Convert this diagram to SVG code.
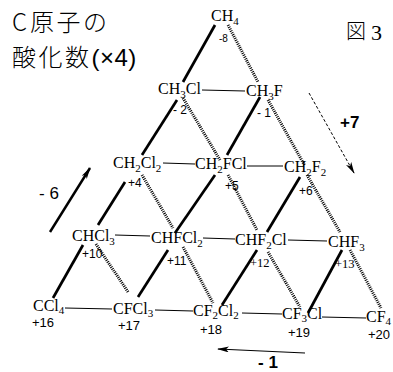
<svg xmlns="http://www.w3.org/2000/svg" width="393" height="372" viewBox="0 0 393 372">
<style>
.f{font-family:"Liberation Serif","Times New Roman",serif;font-size:16px;fill:#000}
.s{font-size:11px}
.n{font-family:"Liberation Sans",Arial,sans-serif;font-size:12px;fill:#000}
.ns{font-family:"Liberation Serif","Times New Roman",serif;font-size:12.5px;fill:#000}
.nb{font-family:"Liberation Sans",Arial,sans-serif;font-size:13px;fill:#000}
.big{font-family:"Liberation Sans",Arial,sans-serif;font-size:17px;font-weight:bold;fill:#000}
.jp{font-family:"Noto Sans CJK JP","Noto Sans CJK SC",sans-serif;font-size:24px;font-weight:300;letter-spacing:2.5px;fill:#000}
.sol{stroke:#000;stroke-width:2.7;fill:none}
.dot{stroke:#000;stroke-width:3;stroke-dasharray:1 1.1;fill:none}
.hor{stroke:#000;stroke-width:1;fill:none}
</style>
<defs>
<marker id="ah" viewBox="0 0 12 6" refX="11" refY="3" markerWidth="12" markerHeight="6" markerUnits="userSpaceOnUse" orient="auto">
<path d="M0,0 L12,3 L0,6 L3,3 Z" fill="#000"/>
</marker>
</defs>
<rect width="393" height="372" fill="#fff"/>

<g id="title">
<text class="jp" x="12" y="31">C<tspan x="30">原子の</tspan></text>
<text class="jp" x="12" y="66">酸化数<tspan style="font-family:'Liberation Sans',Arial,sans-serif;font-weight:400;letter-spacing:0.5px">(×4)</tspan></text>
<text x="346" y="39" style="font-family:'Noto Sans CJK JP',sans-serif;font-weight:300;font-size:20px">図</text>
<text x="371" y="40" style="font-family:'Liberation Serif',serif;font-size:22px">3</text>
</g>

<g id="connectors">
<!-- solid / lines -->
<line class="sol" x1="215" y1="25" x2="183" y2="82"/>
<line class="sol" x1="177" y1="100" x2="142" y2="155"/>
<line class="sol" x1="125" y1="182" x2="98" y2="225"/>
<line class="sol" x1="83" y1="245" x2="53" y2="298"/>
<line class="sol" x1="260" y1="97" x2="227" y2="155"/>
<line class="sol" x1="215" y1="175" x2="175" y2="233"/>
<line class="sol" x1="168" y1="250" x2="138" y2="297"/>
<line class="sol" x1="300" y1="177" x2="267" y2="232"/>
<line class="sol" x1="257" y1="250" x2="222" y2="305"/>
<line class="sol" x1="342" y1="250" x2="308" y2="313"/>
<!-- hatched \ lines -->
<line class="dot" x1="228" y1="25" x2="258" y2="82"/>
<line class="dot" x1="268" y1="100" x2="305" y2="166"/>
<line class="dot" x1="307" y1="175" x2="340" y2="232"/>
<line class="dot" x1="350" y1="250" x2="381" y2="308"/>
<line class="dot" x1="183" y1="98" x2="220" y2="160"/>
<line class="dot" x1="228" y1="175" x2="257" y2="230"/>
<line class="dot" x1="268" y1="252" x2="300" y2="307"/>
<line class="dot" x1="142" y1="175" x2="173" y2="228"/>
<line class="dot" x1="183" y1="247" x2="213" y2="303"/>
<line class="dot" x1="96" y1="244" x2="128" y2="292"/>
<!-- horizontal lines -->
<line class="hor" x1="202" y1="90" x2="245" y2="91"/>
<line class="hor" x1="163" y1="163" x2="195" y2="164"/>
<line class="hor" x1="247" y1="166" x2="283" y2="166"/>
<line class="hor" x1="115" y1="235" x2="150" y2="236"/>
<line class="hor" x1="203" y1="238" x2="235" y2="239"/>
<line class="hor" x1="288" y1="240" x2="327" y2="241"/>
<line class="hor" x1="65" y1="308" x2="112" y2="309"/>
<line class="hor" x1="155" y1="310" x2="193" y2="311"/>
<line class="hor" x1="242" y1="313" x2="282" y2="314"/>
<line class="hor" x1="322" y1="317" x2="366" y2="318"/>
<!-- direction arrows -->
<line x1="50" y1="232" x2="90" y2="168" stroke="#000" stroke-width="2.5" marker-end="url(#ah)"/>
<line x1="309" y1="93" x2="354" y2="173" stroke="#000" stroke-width="1" stroke-dasharray="3 2" marker-end="url(#ah)"/>
<line x1="305" y1="353" x2="218" y2="349" stroke="#000" stroke-width="1.2" marker-end="url(#ah)"/>
</g>

<g id="arrow-labels">
<text class="big" x="39" y="199" style="font-weight:normal">- 6</text>
<text class="big" x="340" y="128">+7</text>
<text class="big" x="258" y="368">- 1</text>
</g>

<g id="CH4"><text class="f" x="211" y="21">CH<tspan class="s" dy="4">4</tspan></text><text class="n" x="219" y="42" style="font-size:10px">-8</text></g>
<g id="CH3Cl"><text class="f" x="158" y="94">CH<tspan class="s" dy="4">3</tspan><tspan dy="-4">Cl</tspan></text><text class="n" x="173" y="114">- 2</text></g>
<g id="CH3F"><text class="f" x="246" y="96">CH<tspan class="s" dy="4">3</tspan><tspan dy="-4">F</tspan></text><text class="n" x="257" y="117">- 1</text></g>
<g id="CH2Cl2"><text class="f" x="113" y="168">CH<tspan class="s" dy="4">2</tspan><tspan dy="-4">Cl</tspan><tspan class="s" dy="4">2</tspan></text><text class="n" x="128" y="187">+4</text></g>
<g id="CH2FCl"><text class="f" x="195" y="169">CH<tspan class="s" dy="4">2</tspan><tspan dy="-4">FCl</tspan></text><text class="n" x="225" y="190">+5</text></g>
<g id="CH2F2"><text class="f" x="284" y="172">CH<tspan class="s" dy="4">2</tspan><tspan dy="-4">F</tspan><tspan class="s" dy="4">2</tspan></text><text class="n" x="299" y="195">+6</text></g>
<g id="CHCl3"><text class="f" x="72" y="241">CHCl<tspan class="s" dy="4">3</tspan></text><text class="n" x="82" y="258">+10</text></g>
<g id="CHFCl2"><text class="f" x="151" y="243">CHFCl<tspan class="s" dy="4">2</tspan></text><text class="n" x="167" y="265">+11</text></g>
<g id="CHF2Cl"><text class="f" x="235" y="245">CHF<tspan class="s" dy="4">2</tspan><tspan dy="-4">Cl</tspan></text><text class="ns" x="250" y="267">+12</text></g>
<g id="CHF3"><text class="f" x="328" y="247">CHF<tspan class="s" dy="4">3</tspan></text><text class="ns" x="335" y="268">+13</text></g>
<g id="CCl4"><text class="f" x="33" y="311">CCl<tspan class="s" dy="3">4</tspan></text><text class="nb" x="32" y="327">+16</text></g>
<g id="CFCl3"><text class="f" x="113" y="314">CFCl<tspan class="s" dy="3">3</tspan></text><text class="nb" x="118" y="330">+17</text></g>
<g id="CF2Cl2"><text class="f" x="193" y="316">CF<tspan class="s" dy="3">2</tspan><tspan dy="-3">Cl</tspan><tspan class="s" dy="3">2</tspan></text><text class="nb" x="200" y="334">+18</text></g>
<g id="CF3Cl"><text class="f" x="282" y="319">CF<tspan class="s" dy="3">3</tspan><tspan dy="-3">Cl</tspan></text><text class="nb" x="288" y="337">+19</text></g>
<g id="CF4"><text class="f" x="366" y="322">CF<tspan class="s" dy="3">4</tspan></text><text class="nb" x="368" y="339">+20</text></g>
</svg>
